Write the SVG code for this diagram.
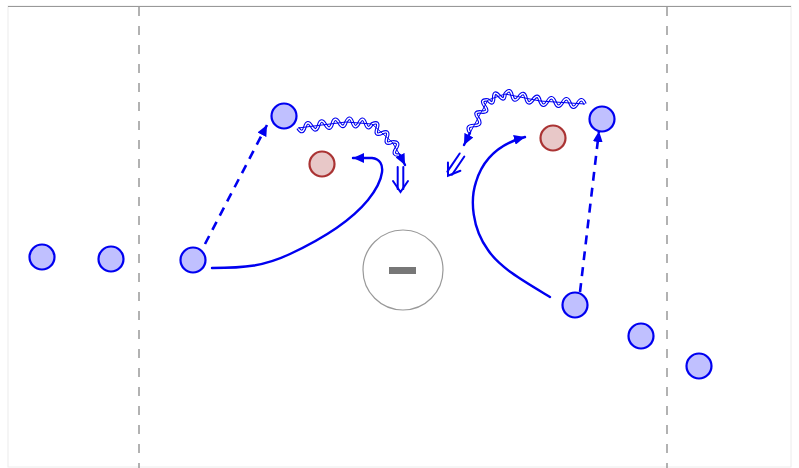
<svg xmlns="http://www.w3.org/2000/svg" width="799" height="468" viewBox="0 0 799 468">
<style>
.player{fill:#c0c0ff;stroke:#0000f0;stroke-width:2.2}
.opp{fill:#e8c8c8;stroke:#aa3333;stroke-width:2.2}
.line{fill:none;stroke:#0000f0;stroke-width:2.4;stroke-linecap:round;stroke-linejoin:round}
.dash{fill:none;stroke:#0000f0;stroke-width:2.6;stroke-dasharray:9 7}
.waveO{fill:none;stroke:#0000f0;stroke-width:3.6;stroke-linejoin:round}
.waveI{fill:none;stroke:#ffffff;stroke-width:1.4;stroke-linejoin:round}
.waveC{fill:none;stroke:#0000f0;stroke-width:1}
.zone{stroke:#999;stroke-width:1.5;stroke-dasharray:9 10}
</style>
<defs>
<marker id="tri" markerUnits="userSpaceOnUse" markerWidth="12" markerHeight="10" refX="11" refY="5" orient="auto">
<path d="M0,0 L11,5 L0,10 z" fill="#0000f0"/>
</marker>
<g id="dbl" fill="none" stroke="#0000f0" stroke-width="2" stroke-linecap="round">
<line x1="-2.8" y1="0" x2="-2.8" y2="22"/>
<line x1="2.8" y1="0" x2="2.8" y2="22"/>
<polyline points="-7.5,14 0,25 7.5,14"/>
</g>
<path id="w1" d="M298,128 q4.42,7.51 6.857,-0.857 q2.44,-8.37 6.857,-0.857 q4.42,7.51 6.857,-0.857 q2.44,-8.37 6.857,-0.857 q4.42,7.51 6.857,-0.857 q2.44,-8.37 6.857,-0.857 q4.42,7.51 6.857,-0.857 q3.86,-7.73 6.5,0.5 q2.64,8.23 6.5,0.5 q3.86,-7.73 6.5,0.5 q2.64,8.23 6.5,0.5 q7.85,-3.69 5,4.5 q-2.85,8.19 5,4.5 q7.85,-3.69 5,4.5 q-2.85,8.19 5,4.5 q8.82,-0.94 4,6.5 q-4.82,7.44 4,6.5"/>
<path id="w2" d="M585,104 q-3.22,-8.23 -7.5,-0.5 q-4.28,7.73 -7.5,-0.5 q-3.22,-8.23 -7.5,-0.5 q-4.28,7.73 -7.5,-0.5 q-3.22,-8.23 -7.5,-0.5 q-4.28,7.73 -7.5,-0.5 q-1.93,-8.54 -7,-1.4 q-5.07,7.14 -7,-1.4 q-1.93,-8.54 -7,-1.4 q-5.07,7.14 -7,-1.4 q-1.93,-8.54 -7,-1.4 q-0.17,8.54 -5.667,2 q-5.49,-6.54 -5.667,2 q-0.17,8.54 -5.667,2 q-8.66,-0.89 -3.333,6 q5.32,6.89 -3.333,6 q-8.66,-0.89 -3.333,6 q5.06,7.51 -4,7.5 q-9.06,-0.01 -4,7.5"/>
</defs>
<rect x="0" y="0" width="799" height="468" fill="#ffffff"/>
<rect x="8" y="6" width="783" height="461" fill="#ffffff" stroke="#ececec" stroke-width="1"/>
<line x1="8" y1="6.5" x2="791" y2="6.5" stroke="#999" stroke-width="1.2"/>
<line class="zone" x1="139" y1="7" x2="139" y2="468"/>
<line class="zone" x1="667" y1="7" x2="667" y2="468"/>

<g id="connectors">
<line class="dash" x1="205" y1="244" x2="267" y2="125" marker-end="url(#tri)"/>
<path class="line" d="M212,268 C245,268 265,266 290,254 C320,240 350,222 368,200 C384,180 388,160 372,158 L353,158" marker-end="url(#tri)"/>
<g id="wave1">
<use href="#w1" class="waveO"/>
<use href="#w1" class="waveI"/>
<polyline class="waveC" points="298,128 346,122 372,124 392,142 400,155"/>
<line class="line" x1="400" y1="155" x2="405" y2="165" marker-end="url(#tri)"/>
</g>
<use href="#dbl" transform="translate(400.5,167)"/>

<path class="line" d="M550,297 C525,282 500,268 488,250 C472,228 470,200 476,182 C482,162 495,145 525,137" marker-end="url(#tri)"/>
<line class="dash" x1="580" y1="292" x2="599" y2="131" marker-end="url(#tri)"/>
<g id="wave2">
<use href="#w2" class="waveO"/>
<use href="#w2" class="waveI"/>
<polyline class="waveC" points="585,104 540,101 505,94 488,100 478,118 470,133"/>
<line class="line" x1="470" y1="133" x2="464" y2="145" marker-end="url(#tri)"/>
</g>
<use href="#dbl" transform="translate(462,155) rotate(34)"/>
</g>

<g id="ball">
<circle cx="403" cy="270" r="40" fill="#ffffff" stroke="#999" stroke-width="1.2"/>
<rect x="389" y="267" width="27" height="7" fill="#777"/>
</g>

<g id="p1"><circle class="player" cx="42" cy="257" r="12.5"/></g>
<g id="p2"><circle class="player" cx="111" cy="259" r="12.5"/></g>
<g id="p3"><circle class="player" cx="193" cy="260" r="12.5"/></g>
<g id="p4"><circle class="player" cx="284" cy="116" r="12.5"/></g>
<g id="p5"><circle class="player" cx="602" cy="119" r="12.5"/></g>
<g id="p6"><circle class="player" cx="575" cy="305" r="12.5"/></g>
<g id="p7"><circle class="player" cx="641" cy="336" r="12.5"/></g>
<g id="p8"><circle class="player" cx="699" cy="366" r="12.5"/></g>
<g id="o1"><circle class="opp" cx="322" cy="164" r="12.5"/></g>
<g id="o2"><circle class="opp" cx="553" cy="138" r="12.5"/></g>
</svg>
